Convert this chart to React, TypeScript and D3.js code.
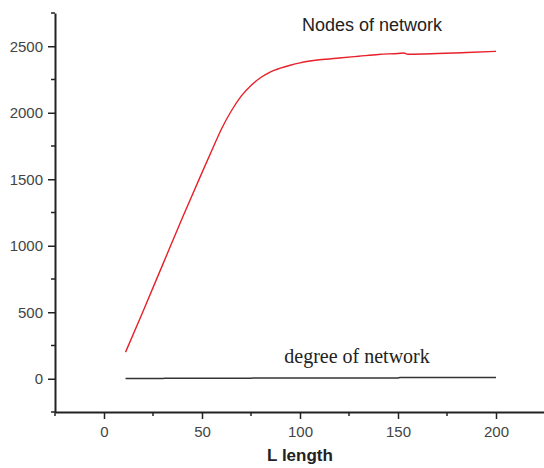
import React, { useEffect, useRef } from "react";
import * as d3 from "d3";

// Nodes of network (red curve)
const lengthNodes = [11, 20, 30, 40, 50, 56, 60, 65, 70, 75, 80, 85, 90, 95, 100, 110, 120, 130, 140, 150, 153, 155, 170, 185, 200];
const nodeValues = [200, 510, 860, 1210, 1550, 1750, 1880, 2015, 2125, 2205, 2265, 2308, 2335, 2357, 2375, 2398, 2412, 2425, 2438, 2446, 2449, 2440, 2445, 2453, 2462];

// degree of network (black line near zero)
const lengthDegree = [11, 30, 31, 75, 76, 150, 151, 200];
const degreeValues = [2, 2, 4, 4, 6, 6, 9, 10];

const xMajor = [0, 50, 100, 150, 200];
const xMinor = [-25, 25, 75, 125, 175, 225];
const yMajor = [0, 500, 1000, 1500, 2000, 2500];
const yMinor = [-250, 250, 750, 1250, 1750, 2250, 2750];

const W = 544, H = 468;
const FONT = "'Liberation Sans', Arial, sans-serif";

export default function App() {
  const ref = useRef<SVGSVGElement>(null);

  useEffect(() => {
    const svg = d3.select(ref.current);
    svg.selectAll("*").remove();

    const x = d3.scaleLinear().domain([-25, 225]).range([55, 545]);
    const y = d3.scaleLinear().domain([-250, 2750]).range([412, 13]);
    const x0 = x(-25), y0 = y(-250);

    // axes
    const axisColor = "#222";
    const yAxis = svg.append("g").attr("transform", `translate(${x0},0)`);
    yAxis.call(d3.axisLeft(y).tickValues(yMajor).tickFormat(d3.format("d")).tickSize(7).tickSizeOuter(0).tickPadding(5));
    yAxis.append("g").selectAll("line").data(yMinor).join("line")
      .attr("x1", -4).attr("x2", 0).attr("y1", d => y(d)).attr("y2", d => y(d))
      .attr("stroke", axisColor).attr("stroke-width", 1.5);

    const xAxis = svg.append("g").attr("transform", `translate(0,${y0})`);
    xAxis.call(d3.axisBottom(x).tickValues(xMajor).tickFormat(d3.format("d")).tickSize(7).tickSizeOuter(0).tickPadding(7));
    xAxis.append("g").selectAll("line").data(xMinor).join("line")
      .attr("x1", d => x(d)).attr("x2", d => x(d)).attr("y1", 0).attr("y2", 4)
      .attr("stroke", axisColor).attr("stroke-width", 1.5);

    svg.selectAll(".domain").attr("stroke", axisColor).attr("stroke-width", 2);
    svg.selectAll(".tick line").attr("stroke", axisColor).attr("stroke-width", 1.5);
    svg.selectAll(".tick text").attr("fill", "#444").style("font-size", "15px").style("font-family", FONT);

    // lines
    const line = d3.line<[number, number]>().x(d => x(d[0])).y(d => y(d[1])).curve(d3.curveMonotoneX);

    svg.append("path")
      .datum(lengthDegree.map((l, i) => [l, degreeValues[i]] as [number, number]))
      .attr("d", d3.line<[number, number]>().x(d => x(d[0])).y(d => y(d[1])))
      .attr("fill", "none").attr("stroke", "#333").attr("stroke-width", 1.5);

    svg.append("path")
      .datum(lengthNodes.map((l, i) => [l, nodeValues[i]] as [number, number]))
      .attr("d", line)
      .attr("fill", "none").attr("stroke", "#e8202a").attr("stroke-width", 1.4);

    // labels
    svg.append("text").text("Nodes of network")
      .attr("x", 372).attr("y", 31).attr("text-anchor", "middle")
      .attr("fill", "#222").style("font-size", "18px").style("font-family", FONT);

    svg.append("text").text("degree of network")
      .attr("x", 357).attr("y", 363).attr("text-anchor", "middle")
      .attr("fill", "#222").style("font-size", "20px").style("font-family", "'Liberation Serif', 'Times New Roman', serif");

    svg.append("text").text("L length")
      .attr("x", 300).attr("y", 461).attr("text-anchor", "middle")
      .attr("fill", "#222").style("font-size", "17px").style("font-weight", "bold").style("font-family", FONT);
  }, []);

  return (
    <svg ref={ref} width={W} height={H} style={{ position: "absolute", left: 0, top: 0, background: "#fff" }}></svg>
  );
}
